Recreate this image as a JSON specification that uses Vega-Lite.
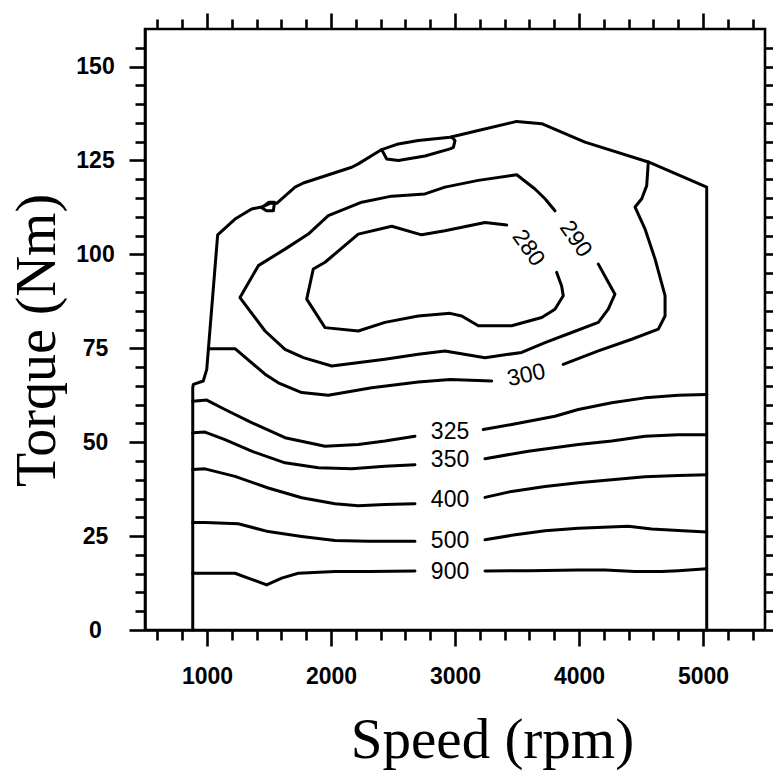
{
  "$schema": "https://vega.github.io/schema/vega-lite/v6.json",
  "width": 620,
  "height": 601,
  "autosize": {"type": "none"},
  "padding": {"left": 145, "top": 29, "right": 8, "bottom": 141},
  "background": "white",
  "config": {
    "view": {"stroke": "black", "strokeWidth": 2.6},
    "axis": {"grid": false, "tickColor": "black", "tickWidth": 2.6, "domainColor": "black", "domainWidth": 2.6},
    "font": "Liberation Sans"
  },
  "datasets": {
    "lines": [
      {"s": "env", "i": 0, "rpm": 885, "tq": 0},
      {"s": "env", "i": 1, "rpm": 885, "tq": 64.5},
      {"s": "env", "i": 2, "rpm": 890, "tq": 65.4},
      {"s": "env", "i": 3, "rpm": 970, "tq": 66.3},
      {"s": "env", "i": 4, "rpm": 998, "tq": 69.4},
      {"s": "env", "i": 5, "rpm": 1086, "tq": 105.2},
      {"s": "env", "i": 6, "rpm": 1226, "tq": 109.4},
      {"s": "env", "i": 7, "rpm": 1360, "tq": 112.1},
      {"s": "env", "i": 8, "rpm": 1441, "tq": 112.6},
      {"s": "env", "i": 9, "rpm": 1508, "tq": 113.6},
      {"s": "env", "i": 10, "rpm": 1562, "tq": 113.6},
      {"s": "env", "i": 11, "rpm": 1710, "tq": 117.9},
      {"s": "env", "i": 12, "rpm": 1777, "tq": 119.0},
      {"s": "env", "i": 13, "rpm": 2167, "tq": 123.2},
      {"s": "env", "i": 14, "rpm": 2220, "tq": 124.1},
      {"s": "env", "i": 15, "rpm": 2409, "tq": 127.9},
      {"s": "env", "i": 16, "rpm": 2543, "tq": 129.4},
      {"s": "env", "i": 17, "rpm": 2704, "tq": 130.3},
      {"s": "env", "i": 18, "rpm": 2960, "tq": 131.2},
      {"s": "env", "i": 19, "rpm": 3188, "tq": 133.0},
      {"s": "env", "i": 20, "rpm": 3498, "tq": 135.4},
      {"s": "env", "i": 21, "rpm": 3699, "tq": 134.8},
      {"s": "env", "i": 22, "rpm": 4048, "tq": 129.9},
      {"s": "env", "i": 23, "rpm": 4559, "tq": 124.6},
      {"s": "env", "i": 24, "rpm": 5030, "tq": 117.9},
      {"s": "env", "i": 25, "rpm": 5030, "tq": 0},

      {"s": "tiny", "i": 0, "rpm": 1441, "tq": 112.4},
      {"s": "tiny", "i": 1, "rpm": 1500, "tq": 113.9},
      {"s": "tiny", "i": 2, "rpm": 1545, "tq": 113.9},
      {"s": "tiny", "i": 3, "rpm": 1535, "tq": 111.6},
      {"s": "tiny", "i": 4, "rpm": 1480, "tq": 111.6},
      {"s": "tiny", "i": 5, "rpm": 1441, "tq": 112.4},

      {"s": "top", "i": 0, "rpm": 2409, "tq": 127.9},
      {"s": "top", "i": 1, "rpm": 2449, "tq": 125.4},
      {"s": "top", "i": 2, "rpm": 2543, "tq": 125.0},
      {"s": "top", "i": 3, "rpm": 2758, "tq": 126.2},
      {"s": "top", "i": 4, "rpm": 2960, "tq": 128.1},
      {"s": "top", "i": 5, "rpm": 2987, "tq": 128.5},
      {"s": "top", "i": 6, "rpm": 3000, "tq": 130.3},
      {"s": "top", "i": 7, "rpm": 2973, "tq": 131.2},

      {"s": "c290", "i": 0, "rpm": 3806, "tq": 111.6},
      {"s": "c290", "i": 1, "rpm": 3726, "tq": 114.8},
      {"s": "c290", "i": 2, "rpm": 3645, "tq": 117.4},
      {"s": "c290", "i": 3, "rpm": 3498, "tq": 121.2},
      {"s": "c290", "i": 4, "rpm": 3188, "tq": 119.7},
      {"s": "c290", "i": 5, "rpm": 2919, "tq": 117.9},
      {"s": "c290", "i": 6, "rpm": 2758, "tq": 116.1},
      {"s": "c290", "i": 7, "rpm": 2490, "tq": 115.5},
      {"s": "c290", "i": 8, "rpm": 2248, "tq": 113.9},
      {"s": "c290", "i": 9, "rpm": 1978, "tq": 110.3},
      {"s": "c290", "i": 10, "rpm": 1817, "tq": 105.4},
      {"s": "c290", "i": 11, "rpm": 1629, "tq": 101.4},
      {"s": "c290", "i": 12, "rpm": 1414, "tq": 97.0},
      {"s": "c290", "i": 13, "rpm": 1266, "tq": 88.5},
      {"s": "c290", "i": 14, "rpm": 1468, "tq": 79.6},
      {"s": "c290", "i": 15, "rpm": 1629, "tq": 74.7},
      {"s": "c290", "i": 16, "rpm": 1777, "tq": 72.5},
      {"s": "c290", "i": 17, "rpm": 2006, "tq": 70.3},
      {"s": "c290", "i": 18, "rpm": 2435, "tq": 72.1},
      {"s": "c290", "i": 19, "rpm": 2704, "tq": 73.4},
      {"s": "c290", "i": 20, "rpm": 2919, "tq": 74.3},
      {"s": "c290", "i": 21, "rpm": 3242, "tq": 72.5},
      {"s": "c290", "i": 22, "rpm": 3538, "tq": 73.9},
      {"s": "c290", "i": 23, "rpm": 3726, "tq": 76.5},
      {"s": "c290", "i": 24, "rpm": 3941, "tq": 79.2},
      {"s": "c290", "i": 25, "rpm": 4156, "tq": 81.9},
      {"s": "c290", "i": 26, "rpm": 4236, "tq": 85.4},
      {"s": "c290", "i": 27, "rpm": 4290, "tq": 89.4},
      {"s": "c290", "i": 28, "rpm": 4223, "tq": 93.4},
      {"s": "c290", "i": 29, "rpm": 4156, "tq": 97.4},

      {"s": "c280", "i": 0, "rpm": 3417, "tq": 107.8},
      {"s": "c280", "i": 1, "rpm": 3242, "tq": 108.5},
      {"s": "c280", "i": 2, "rpm": 2919, "tq": 106.3},
      {"s": "c280", "i": 3, "rpm": 2731, "tq": 105.2},
      {"s": "c280", "i": 4, "rpm": 2490, "tq": 107.5},
      {"s": "c280", "i": 5, "rpm": 2220, "tq": 105.4},
      {"s": "c280", "i": 6, "rpm": 1952, "tq": 97.9},
      {"s": "c280", "i": 7, "rpm": 1857, "tq": 96.1},
      {"s": "c280", "i": 8, "rpm": 1804, "tq": 88.1},
      {"s": "c280", "i": 9, "rpm": 1952, "tq": 80.5},
      {"s": "c280", "i": 10, "rpm": 2220, "tq": 79.6},
      {"s": "c280", "i": 11, "rpm": 2435, "tq": 81.9},
      {"s": "c280", "i": 12, "rpm": 2704, "tq": 83.6},
      {"s": "c280", "i": 13, "rpm": 2960, "tq": 84.3},
      {"s": "c280", "i": 14, "rpm": 3054, "tq": 83.6},
      {"s": "c280", "i": 15, "rpm": 3188, "tq": 81.0},
      {"s": "c280", "i": 16, "rpm": 3457, "tq": 81.0},
      {"s": "c280", "i": 17, "rpm": 3699, "tq": 83.2},
      {"s": "c280", "i": 18, "rpm": 3806, "tq": 85.4},
      {"s": "c280", "i": 19, "rpm": 3873, "tq": 89.0},
      {"s": "c280", "i": 20, "rpm": 3860, "tq": 91.6},
      {"s": "c280", "i": 21, "rpm": 3820, "tq": 95.2},

      {"s": "c300a", "i": 0, "rpm": 1011, "tq": 74.9},
      {"s": "c300a", "i": 1, "rpm": 1226, "tq": 74.9},
      {"s": "c300a", "i": 2, "rpm": 1468, "tq": 68.1},
      {"s": "c300a", "i": 3, "rpm": 1575, "tq": 65.8},
      {"s": "c300a", "i": 4, "rpm": 1764, "tq": 63.2},
      {"s": "c300a", "i": 5, "rpm": 1978, "tq": 62.5},
      {"s": "c300a", "i": 6, "rpm": 2328, "tq": 64.5},
      {"s": "c300a", "i": 7, "rpm": 2704, "tq": 66.0},
      {"s": "c300a", "i": 8, "rpm": 2960, "tq": 66.7},
      {"s": "c300a", "i": 9, "rpm": 3296, "tq": 66.3},
      {"s": "c300b", "i": 0, "rpm": 3873, "tq": 70.7},
      {"s": "c300b", "i": 1, "rpm": 4156, "tq": 74.3},
      {"s": "c300b", "i": 2, "rpm": 4425, "tq": 77.4},
      {"s": "c300b", "i": 3, "rpm": 4640, "tq": 80.1},
      {"s": "c300b", "i": 4, "rpm": 4694, "tq": 83.6},
      {"s": "c300b", "i": 5, "rpm": 4694, "tq": 89.0},
      {"s": "c300b", "i": 6, "rpm": 4613, "tq": 98.8},
      {"s": "c300b", "i": 7, "rpm": 4532, "tq": 106.8},
      {"s": "c300b", "i": 8, "rpm": 4452, "tq": 112.6},
      {"s": "c300b", "i": 9, "rpm": 4506, "tq": 114.8},
      {"s": "c300b", "i": 10, "rpm": 4546, "tq": 118.3},
      {"s": "c300b", "i": 11, "rpm": 4559, "tq": 124.6},

      {"s": "c325a", "i": 0, "rpm": 885, "tq": 60.9},
      {"s": "c325a", "i": 1, "rpm": 998, "tq": 61.2},
      {"s": "c325a", "i": 2, "rpm": 1145, "tq": 58.7},
      {"s": "c325a", "i": 3, "rpm": 1360, "tq": 55.2},
      {"s": "c325a", "i": 4, "rpm": 1629, "tq": 51.2},
      {"s": "c325a", "i": 5, "rpm": 1952, "tq": 48.9},
      {"s": "c325a", "i": 6, "rpm": 2220, "tq": 49.4},
      {"s": "c325a", "i": 7, "rpm": 2435, "tq": 50.3},
      {"s": "c325a", "i": 8, "rpm": 2677, "tq": 51.6},
      {"s": "c325b", "i": 0, "rpm": 3228, "tq": 53.4},
      {"s": "c325b", "i": 1, "rpm": 3457, "tq": 54.7},
      {"s": "c325b", "i": 2, "rpm": 3806, "tq": 56.9},
      {"s": "c325b", "i": 3, "rpm": 3994, "tq": 58.7},
      {"s": "c325b", "i": 4, "rpm": 4264, "tq": 60.5},
      {"s": "c325b", "i": 5, "rpm": 4532, "tq": 61.8},
      {"s": "c325b", "i": 6, "rpm": 4801, "tq": 62.5},
      {"s": "c325b", "i": 7, "rpm": 5030, "tq": 62.7},

      {"s": "c350a", "i": 0, "rpm": 885, "tq": 52.5},
      {"s": "c350a", "i": 1, "rpm": 984, "tq": 52.7},
      {"s": "c350a", "i": 2, "rpm": 1145, "tq": 50.7},
      {"s": "c350a", "i": 3, "rpm": 1360, "tq": 47.6},
      {"s": "c350a", "i": 4, "rpm": 1629, "tq": 44.5},
      {"s": "c350a", "i": 5, "rpm": 1898, "tq": 43.2},
      {"s": "c350a", "i": 6, "rpm": 2167, "tq": 42.9},
      {"s": "c350a", "i": 7, "rpm": 2435, "tq": 43.6},
      {"s": "c350a", "i": 8, "rpm": 2677, "tq": 44.0},
      {"s": "c350b", "i": 0, "rpm": 3242, "tq": 45.6},
      {"s": "c350b", "i": 1, "rpm": 3591, "tq": 47.6},
      {"s": "c350b", "i": 2, "rpm": 3994, "tq": 49.4},
      {"s": "c350b", "i": 3, "rpm": 4264, "tq": 50.3},
      {"s": "c350b", "i": 4, "rpm": 4532, "tq": 51.6},
      {"s": "c350b", "i": 5, "rpm": 4801, "tq": 52.0},
      {"s": "c350b", "i": 6, "rpm": 5030, "tq": 52.0},

      {"s": "c400a", "i": 0, "rpm": 885, "tq": 42.7},
      {"s": "c400a", "i": 1, "rpm": 984, "tq": 42.9},
      {"s": "c400a", "i": 2, "rpm": 1226, "tq": 40.9},
      {"s": "c400a", "i": 3, "rpm": 1494, "tq": 37.8},
      {"s": "c400a", "i": 4, "rpm": 1764, "tq": 35.2},
      {"s": "c400a", "i": 5, "rpm": 2032, "tq": 33.6},
      {"s": "c400a", "i": 6, "rpm": 2220, "tq": 33.1},
      {"s": "c400a", "i": 7, "rpm": 2435, "tq": 33.4},
      {"s": "c400a", "i": 8, "rpm": 2677, "tq": 33.6},
      {"s": "c400b", "i": 0, "rpm": 3242, "tq": 35.3},
      {"s": "c400b", "i": 1, "rpm": 3457, "tq": 36.9},
      {"s": "c400b", "i": 2, "rpm": 3726, "tq": 38.2},
      {"s": "c400b", "i": 3, "rpm": 3994, "tq": 39.2},
      {"s": "c400b", "i": 4, "rpm": 4264, "tq": 40.0},
      {"s": "c400b", "i": 5, "rpm": 4532, "tq": 40.8},
      {"s": "c400b", "i": 6, "rpm": 4801, "tq": 41.1},
      {"s": "c400b", "i": 7, "rpm": 5030, "tq": 41.3},

      {"s": "c500a", "i": 0, "rpm": 885, "tq": 28.6},
      {"s": "c500a", "i": 1, "rpm": 984, "tq": 28.6},
      {"s": "c500a", "i": 2, "rpm": 1252, "tq": 28.3},
      {"s": "c500a", "i": 3, "rpm": 1494, "tq": 26.2},
      {"s": "c500a", "i": 4, "rpm": 1764, "tq": 24.9},
      {"s": "c500a", "i": 5, "rpm": 2032, "tq": 23.8},
      {"s": "c500a", "i": 6, "rpm": 2301, "tq": 23.6},
      {"s": "c500a", "i": 7, "rpm": 2677, "tq": 23.6},
      {"s": "c500b", "i": 0, "rpm": 3242, "tq": 24.0},
      {"s": "c500b", "i": 1, "rpm": 3457, "tq": 25.2},
      {"s": "c500b", "i": 2, "rpm": 3726, "tq": 26.4},
      {"s": "c500b", "i": 3, "rpm": 3994, "tq": 27.1},
      {"s": "c500b", "i": 4, "rpm": 4398, "tq": 27.6},
      {"s": "c500b", "i": 5, "rpm": 4586, "tq": 26.9},
      {"s": "c500b", "i": 6, "rpm": 4801, "tq": 26.5},
      {"s": "c500b", "i": 7, "rpm": 5030, "tq": 26.1},

      {"s": "c900a", "i": 0, "rpm": 885, "tq": 15.1},
      {"s": "c900a", "i": 1, "rpm": 1226, "tq": 15.1},
      {"s": "c900a", "i": 2, "rpm": 1360, "tq": 13.5},
      {"s": "c900a", "i": 3, "rpm": 1481, "tq": 12.0},
      {"s": "c900a", "i": 4, "rpm": 1602, "tq": 13.8},
      {"s": "c900a", "i": 5, "rpm": 1736, "tq": 15.1},
      {"s": "c900a", "i": 6, "rpm": 2032, "tq": 15.6},
      {"s": "c900a", "i": 7, "rpm": 2301, "tq": 15.6},
      {"s": "c900a", "i": 8, "rpm": 2677, "tq": 15.7},
      {"s": "c900b", "i": 0, "rpm": 3242, "tq": 15.7},
      {"s": "c900b", "i": 1, "rpm": 3591, "tq": 15.8},
      {"s": "c900b", "i": 2, "rpm": 3994, "tq": 16.0},
      {"s": "c900b", "i": 3, "rpm": 4210, "tq": 16.0},
      {"s": "c900b", "i": 4, "rpm": 4452, "tq": 15.6},
      {"s": "c900b", "i": 5, "rpm": 4667, "tq": 15.6},
      {"s": "c900b", "i": 6, "rpm": 4801, "tq": 15.8},
      {"s": "c900b", "i": 7, "rpm": 5030, "tq": 16.3}
    ],
    "flatLabels": [
      {"v": 325, "rpm": 2960, "tq": 52.7},
      {"v": 350, "rpm": 2960, "tq": 45.2},
      {"v": 400, "rpm": 2960, "tq": 34.5},
      {"v": 500, "rpm": 2960, "tq": 23.8},
      {"v": 900, "rpm": 2960, "tq": 15.4}
    ],
    "label300": [
      {"v": 300, "rpm": 3575, "tq": 67.8}
    ],
    "steepLabels": [
      {"v": 280, "rpm": 3591, "tq": 101.7},
      {"v": 290, "rpm": 3973, "tq": 104.1}
    ]
  },
  "layer": [
    {
      "data": {"name": "lines"},
      "mark": {"type": "line", "color": "black", "strokeWidth": 3, "strokeJoin": "round", "strokeCap": "round", "interpolate": "linear"},
      "encoding": {
        "x": {
          "field": "rpm", "type": "quantitative",
          "scale": {"domain": [500, 5500], "nice": false, "zero": false},
          "axis": {
            "orient": "bottom",
            "values": [600, 800, 1000, 1200, 1400, 1600, 1800, 2000, 2200, 2400, 2600, 2800, 3000, 3200, 3400, 3600, 3800, 4000, 4200, 4400, 4600, 4800, 5000, 5200, 5400],
            "format": "d",
            "labelExpr": "datum.value % 1000 === 0 ? datum.label : ''",
            "tickSize": {"condition": {"test": "datum.value % 1000 === 0", "value": 16}, "value": 10},
            "labelFont": "Liberation Sans", "labelFontSize": 23, "labelFontWeight": "bold", "labelColor": "black",
            "labelPadding": 19, "labelOverlap": false, "labelFlush": false, "labelBaseline": "top",
            "title": "Speed (rpm)",
            "titleFont": "Liberation Serif", "titleFontSize": 57, "titleFontWeight": "normal", "titleColor": "black",
            "titleX": 347, "titleY": 127, "titleBaseline": "alphabetic", "titleAlign": "center"
          }
        },
        "y": {
          "field": "tq", "type": "quantitative",
          "scale": {"domain": [0, 160], "nice": false},
          "axis": {
            "orient": "left",
            "values": [0, 5, 10, 15, 20, 25, 30, 35, 40, 45, 50, 55, 60, 65, 70, 75, 80, 85, 90, 95, 100, 105, 110, 115, 120, 125, 130, 135, 140, 145, 150, 155],
            "labelExpr": "datum.value % 25 === 0 ? datum.label : ''",
            "tickSize": {"condition": {"test": "datum.value % 25 === 0", "value": 16}, "value": 10},
            "labelFont": "Liberation Sans", "labelFontSize": 23, "labelFontWeight": "bold", "labelColor": "black",
            "labelAlign": "center", "labelBaseline": "middle", "labelPadding": 34, "labelOverlap": false, "labelFlush": false,
            "title": "Torque  (Nm)",
            "titleFont": "Liberation Serif", "titleFontSize": 56, "titleFontWeight": "normal", "titleColor": "black",
            "titleAngle": -90, "titleX": -91, "titleY": 311, "titleBaseline": "alphabetic", "titleAlign": "center"
          }
        },
        "detail": {"field": "s"},
        "order": {"field": "i", "type": "quantitative"}
      }
    },
    {
      "data": {"name": "flatLabels"},
      "mark": {"type": "text", "font": "Liberation Sans", "fontSize": 23, "color": "black", "align": "center", "baseline": "middle"},
      "encoding": {
        "x": {
          "field": "rpm", "type": "quantitative",
          "scale": {"domain": [500, 5500], "nice": false, "zero": false},
          "axis": {
            "orient": "top",
            "values": [600, 800, 1000, 1200, 1400, 1600, 1800, 2000, 2200, 2400, 2600, 2800, 3000, 3200, 3400, 3600, 3800, 4000, 4200, 4400, 4600, 4800, 5000, 5200, 5400],
            "labels": false, "title": null, "domain": false,
            "tickSize": {"condition": {"test": "datum.value % 1000 === 0", "value": 16}, "value": 10}
          }
        },
        "y": {
          "field": "tq", "type": "quantitative",
          "scale": {"domain": [0, 160], "nice": false},
          "axis": {
            "orient": "right",
            "values": [0, 5, 10, 15, 20, 25, 30, 35, 40, 45, 50, 55, 60, 65, 70, 75, 80, 85, 90, 95, 100, 105, 110, 115, 120, 125, 130, 135, 140, 145, 150, 155],
            "labels": false, "title": null, "domain": false,
            "tickSize": {"condition": {"test": "datum.value % 25 === 0", "value": 16}, "value": 10}
          }
        },
        "text": {"field": "v", "type": "quantitative"}
      }
    },
    {
      "data": {"name": "label300"},
      "mark": {"type": "text", "font": "Liberation Sans", "fontSize": 23, "color": "black", "align": "center", "baseline": "middle", "angle": -12},
      "encoding": {
        "x": {"field": "rpm", "type": "quantitative", "scale": {"domain": [500, 5500], "nice": false, "zero": false}, "axis": null},
        "y": {"field": "tq", "type": "quantitative", "scale": {"domain": [0, 160], "nice": false}, "axis": null},
        "text": {"field": "v", "type": "quantitative"}
      }
    },
    {
      "data": {"name": "steepLabels"},
      "mark": {"type": "text", "font": "Liberation Sans", "fontSize": 23, "color": "black", "align": "center", "baseline": "middle", "angle": 55},
      "encoding": {
        "x": {"field": "rpm", "type": "quantitative", "scale": {"domain": [500, 5500], "nice": false, "zero": false}, "axis": null},
        "y": {"field": "tq", "type": "quantitative", "scale": {"domain": [0, 160], "nice": false}, "axis": null},
        "text": {"field": "v", "type": "quantitative"}
      }
    }
  ],
  "resolve": {"axis": {"x": "independent", "y": "independent"}}
}
